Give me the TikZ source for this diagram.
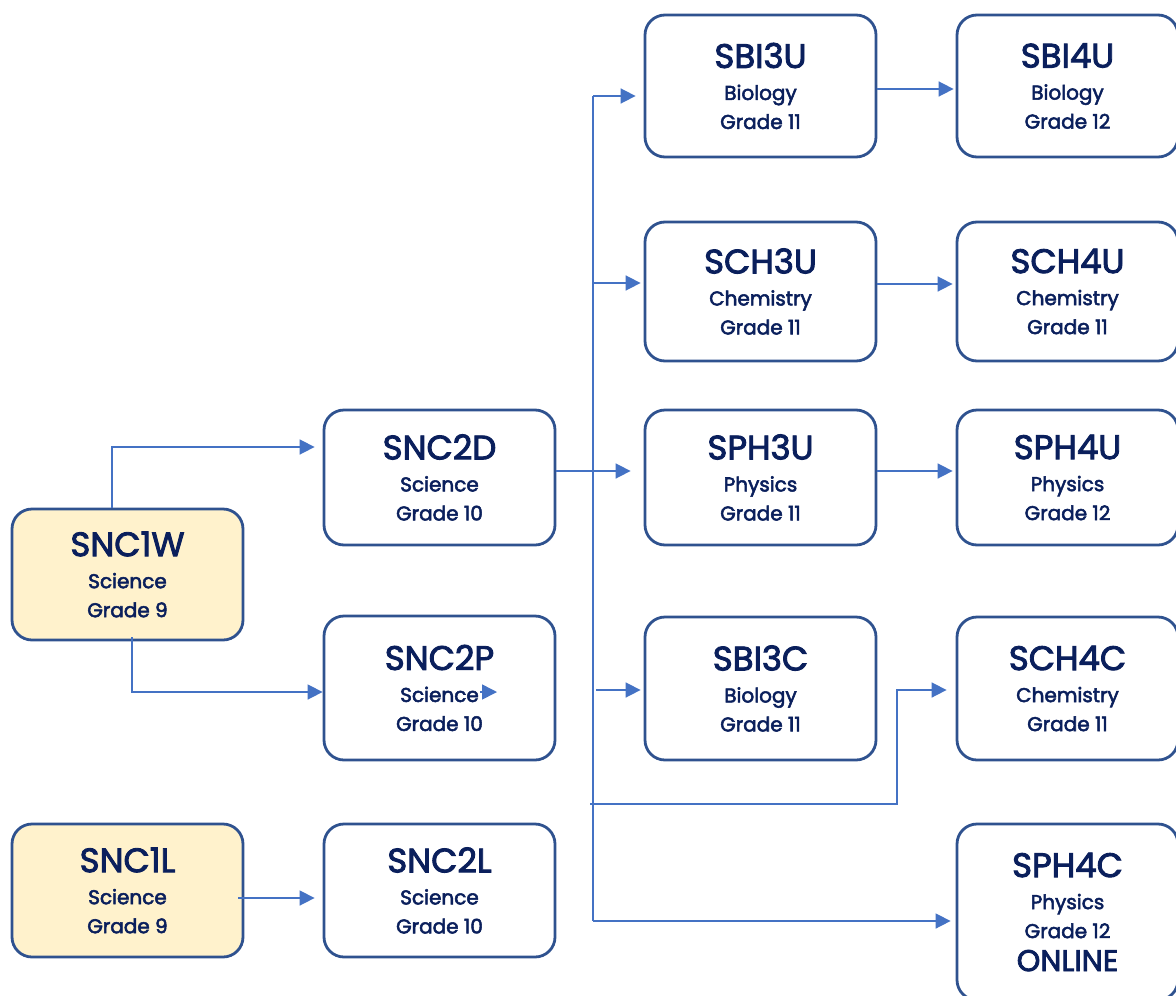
\documentclass[tikz,border=0pt]{standalone}
\usepackage{fontspec}
\setmainfont{Poppins}[FakeBold=2.6]
\usepackage{tikz}
\usetikzlibrary{arrows.meta}

\definecolor{boxline}{HTML}{2F528F}
\definecolor{boxtext}{HTML}{0A1F5C}
\definecolor{gradenine}{HTML}{FFF2CC}
\definecolor{linkblue}{HTML}{4472C4}

\tikzset{
  course/.style={draw=boxline, line width=1.4pt, rounded corners=10pt,
    fill=white, text=boxtext, align=center, inner sep=0pt,
    font=\fontsize{10}{14.5}\selectfont},
  gradenine/.style={course, fill=gradenine},
  link/.style={draw=linkblue, line width=0.8pt,
    -{Triangle[length=7.5pt,width=7.5pt]}},
  bus/.style={draw=linkblue, line width=0.8pt}
}
\newcommand{\code}[1]{{\fontsize{17}{20}\selectfont #1}\\[1.5pt]}

\begin{document}
\begin{tikzpicture}[x=0.5pt,y=-0.5pt]
  \useasboundingbox (0,0) rectangle (1176,995);

  % Grade 9
  \node[gradenine, minimum width=115.5pt, minimum height=65.5pt] (snc1w) at (127.5,574.5) {\code{SNC1W}Science\\Grade 9};
  \node[gradenine, minimum width=115.5pt, minimum height=66.5pt] (snc1l) at (127.5,890.5) {\code{SNC1L}Science\\Grade 9};

  % Grade 10
  \node[course, minimum width=115.5pt, minimum height=67.5pt] (snc2d) at (439.5,477.5) {\code{SNC2D}Science\\Grade 10};
  \node[course, minimum width=115.5pt, minimum height=72pt] (snc2p) at (439.5,688) {\code{SNC2P}Science\\Grade 10};
  \node[course, minimum width=115.5pt, minimum height=66.5pt] (snc2l) at (439.5,890.5) {\code{SNC2L}Science\\Grade 10};

  % Grade 11
  \node[course, minimum width=115.5pt, minimum height=71pt] (sbi3u) at (760.5,86) {\code{SBI3U}Biology\\Grade 11};
  \node[course, minimum width=115.5pt, minimum height=69.5pt] (sch3u) at (760.5,291.5) {\code{SCH3U}Chemistry\\Grade 11};
  \node[course, minimum width=115.5pt, minimum height=67.5pt] (sph3u) at (760.5,477.5) {\code{SPH3U}Physics\\Grade 11};
  \node[course, minimum width=115.5pt, minimum height=71.5pt] (sbi3c) at (760.5,688.5) {\code{SBI3C}Biology\\Grade 11};

  % Grade 12
  \node[course, minimum width=110.5pt, minimum height=71pt] (sbi4u) at (1067.5,86) {\code{SBI4U}Biology\\Grade 12};
  \node[course, minimum width=110.5pt, minimum height=69.5pt] (sch4u) at (1067.5,291.5) {\code{SCH4U}Chemistry\\Grade 11};
  \node[course, minimum width=110.5pt, minimum height=67.5pt] (sph4u) at (1067.5,477.5) {\code{SPH4U}Physics\\Grade 12};
  \node[course, minimum width=110.5pt, minimum height=71.5pt] (sch4c) at (1067.5,688.5) {\code{SCH4C}Chemistry\\Grade 11};
  \node[course, minimum width=110.5pt, minimum height=88pt] (sph4c) at (1067.5,912) {\code{SPH4C}Physics\\Grade 12\\[2pt]{\fontsize{15}{15}\selectfont ONLINE}};

  % Grade 9 to grade 10
  \draw[link, shorten >=4pt] ([xshift=-7.75pt]snc1w.north) |- ([yshift=15.25pt]snc2d.west);
  \draw[link] ([xshift=2.25pt,yshift=2pt]snc1w.south) |- ([yshift=-2pt]snc2p.west);
  \draw[link] ([xshift=20.25pt,yshift=-2pt]snc2p.center) -- ([xshift=28.75pt,yshift=-2pt]snc2p.center);
  \draw[link, shorten >=4pt] ([xshift=-3pt,yshift=-3.75pt]snc1l.east) -- ([yshift=-3.75pt]snc2l.west);

  % SNC2D to the bus
  \coordinate (bustop) at (593,96);
  \coordinate (busbot) at (593,921);
  \coordinate (buschem) at (593,283);
  \coordinate (busbio) at (596,690);
  \coordinate (busmid) at (590,804);
  \coordinate (busbend) at (897,804);
  \draw[link, shorten >=6.5pt] ([yshift=3.25pt]snc2d.east) -- ([yshift=3.25pt]sph3u.west);
  \draw[bus] (bustop) -- (busbot);
  \draw[link, shorten >=4pt] (bustop) -- (bustop -| sbi3u.west);
  \draw[link, shorten >=1.5pt] (buschem) -- (buschem -| sch3u.west);
  \draw[link, shorten >=1.5pt] (busbio) -- (busbio -| sbi3c.west);
  \draw[link, shorten >=4.5pt] (busmid) -- (busbend) |- ([yshift=-0.75pt]sch4c.west);
  \draw[link, shorten >=2.5pt] (busbot) -- (busbot -| sph4c.west);

  % Grade 11 to grade 12
  \draw[link, shorten >=1pt] ([yshift=-1.5pt]sbi3u.east) -- ([yshift=-1.5pt]sbi4u.west);
  \draw[link, shorten >=1.5pt] ([yshift=3.75pt]sch3u.east) -- ([yshift=3.75pt]sch4u.west);
  \draw[link, shorten >=1.5pt] ([yshift=3.25pt]sph3u.east) -- ([yshift=3.25pt]sph4u.west);
\end{tikzpicture}
\end{document}
